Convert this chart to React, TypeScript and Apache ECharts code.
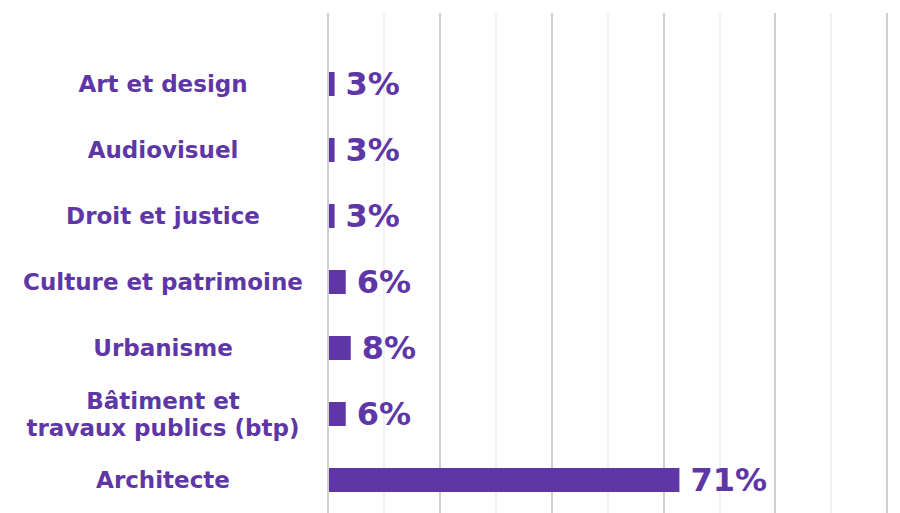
import React, { useEffect, useRef } from "react";
import * as echarts from "echarts";

const categories = [
  "Art et design",
  "Audiovisuel",
  "Droit et justice",
  "Culture et patrimoine",
  "Urbanisme",
  "Bâtiment et\ntravaux publics (btp)",
  "Architecte",
];
// bar lengths as drawn on the 0–100 value axis
const barLengths = [1.0, 1.0, 1.0, 3.0, 3.9, 3.0, 62.8];
// printed share labels
const shareLabels = ["3%", "3%", "3%", "6%", "8%", "6%", "71%"];

const PURPLE = "#5e36a6";
const FONT = "DejaVu Sans";

export default function App() {
  const ref = useRef<HTMLDivElement>(null);
  useEffect(() => {
    if (!ref.current) return;
    const chart = echarts.init(ref.current, null, { renderer: "svg" });
    chart.setOption({
      animation: false,
      backgroundColor: "#ffffff",
      grid: [
        { left: 328, right: 13, top: 13, bottom: 0 },
        { left: 329, right: 13, top: 51, bottom: 0 },
      ],
      xAxis: [
        {
          gridIndex: 0,
          type: "value",
          min: 0,
          max: 100,
          interval: 20,
          axisLabel: { show: false },
          axisLine: { show: false },
          axisTick: { show: false },
          splitLine: { show: true, lineStyle: { color: "#cfcfcf", width: 2 } },
          minorTick: { show: false, splitNumber: 2 },
          minorSplitLine: { show: true, lineStyle: { color: "#ececec", width: 1.5 } },
        },
        {
          gridIndex: 1,
          type: "value",
          min: 0,
          max: 100,
          show: false,
        },
      ],
      yAxis: [
        {
          gridIndex: 0,
          type: "value",
          show: false,
        },
        {
          gridIndex: 1,
          type: "category",
          inverse: true,
          data: categories,
          axisLine: { show: false },
          axisTick: { show: false },
          splitLine: { show: false },
          axisLabel: {
            align: "center",
            margin: 166,
            color: PURPLE,
            fontFamily: FONT,
            fontWeight: "bold",
            fontSize: 23,
            lineHeight: 27,
          },
        },
      ],
      series: [
        {
          type: "bar",
          xAxisIndex: 1,
          yAxisIndex: 1,
          data: barLengths,
          barWidth: 24,
          itemStyle: { color: PURPLE },
          label: {
            show: true,
            position: "right",
            distance: 11,
            color: PURPLE,
            fontFamily: FONT,
            fontWeight: "bold",
            fontSize: 32,
            formatter: (p: any) => shareLabels[p.dataIndex],
          },
        },
      ],
    });
    return () => chart.dispose();
  }, []);
  return (
    <div
      ref={ref}
      style={{ position: "absolute", left: 0, top: 0, width: 900, height: 513 }}
    />
  );
}
